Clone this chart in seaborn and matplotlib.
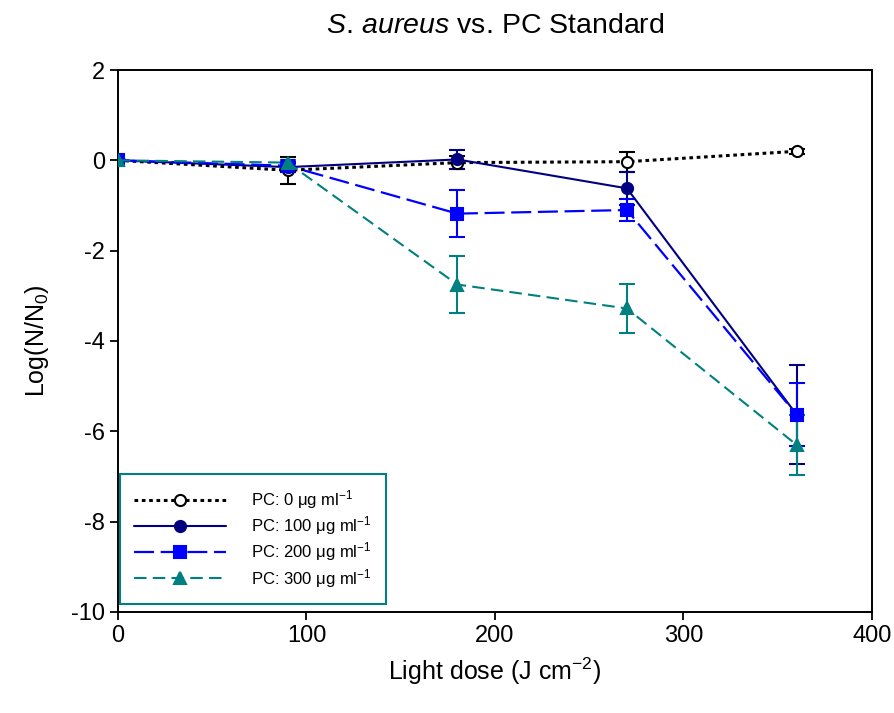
import matplotlib
matplotlib.use("Agg")
import matplotlib.pyplot as plt
import seaborn as sns
import pandas as pd
import numpy as np

# ---- data ----
dose = [0, 90, 180, 270, 360]
pc0 = [0.0, -0.22, -0.05, -0.03, 0.20]
pc0_err = [0.0, 0.30, 0.15, 0.22, 0.05]
pc100 = [0.0, -0.15, 0.02, -0.62, -5.63]
pc100_err = [0.0, 0.10, 0.22, 0.37, 1.10]
pc200 = [0.0, -0.12, -1.18, -1.10, -5.63]
pc200_err = [0.0, 0.08, 0.52, 0.24, 0.70]
pc300 = [0.0, -0.05, -2.75, -3.28, -6.30]
pc300_err = [0.0, 0.05, 0.63, 0.55, 0.67]
labels = ["PC: 0 $\\mathrm{\\mu}$g ml$^{-1}$", "PC: 100 $\\mathrm{\\mu}$g ml$^{-1}$",
          "PC: 200 $\\mathrm{\\mu}$g ml$^{-1}$", "PC: 300 $\\mathrm{\\mu}$g ml$^{-1}$"]

sns.set_theme(style="ticks")
plt.rcParams["font.family"] = ["Liberation Sans", "DejaVu Sans"]
plt.rcParams["mathtext.fontset"] = "custom"
plt.rcParams["mathtext.rm"] = "Liberation Sans"
plt.rcParams["mathtext.it"] = "Liberation Sans:italic"
plt.rcParams["mathtext.bf"] = "Liberation Sans:bold"
plt.rcParams["axes.unicode_minus"] = False
plt.rcParams["text.color"] = "black"
plt.rcParams["axes.labelcolor"] = "black"
plt.rcParams["xtick.color"] = "black"
plt.rcParams["ytick.color"] = "black"

fig = plt.figure(figsize=(8.95, 7.13), dpi=100)
ax = fig.add_axes([0.1318, 0.1417, 0.8425, 0.7601])

series = [
    (pc0, pc0_err, "black", "o", "white", (0, (1.2, 1.2)), 2.2, 8),
    (pc100, pc100_err, "#000080", "o", "#000080", "-", 1.5, 8),
    (pc200, pc200_err, "#0000FF", "s", "#0000FF", (0, (9, 3)), 1.6, 8),
    (pc300, pc300_err, "#008080", "^", "#008080", (0, (6, 3)), 1.5, 9),
]

for (vals, errs, col, mk, fc, ls, lw, ms), lab in zip(series, labels):
    df = pd.DataFrame({"dose": dose, "val": vals})
    ax.errorbar(dose, vals, yerr=errs, fmt="none", ecolor=col, elinewidth=1.5,
                capsize=6, capthick=1.5, zorder=2)
    sns.lineplot(data=df, x="dose", y="val", ax=ax, color=col, marker=mk,
                 markerfacecolor=fc, markeredgecolor=col, markeredgewidth=1.5,
                 markersize=ms, linestyle=ls, linewidth=lw, label=lab, zorder=3)

ax.set_xlim(0, 400)
ax.set_ylim(-10, 2)
ax.set_xticks([0, 100, 200, 300, 400])
ax.set_yticks([-10, -8, -6, -4, -2, 0, 2])
ax.tick_params(direction="out", length=6, width=1.3, labelsize=17, colors="black")
for s in ax.spines.values():
    s.set_linewidth(1.4)
    s.set_color("black")
    s.set_visible(True)

ax.set_xlabel("Light dose (J cm$^{-2}$)", fontsize=18, labelpad=6)
ax.set_ylabel("Log(N/N$_0$)", fontsize=18, labelpad=14)
ax.set_title("$\\mathit{S.\\,aureus}$ vs. PC Standard", fontsize=20.5, pad=27)

leg = ax.legend(loc="lower left", bbox_to_anchor=(0.003, 0.015), fontsize=12,
                handlelength=5.5, borderpad=0.85, labelspacing=0.2,
                handletextpad=1.5, borderaxespad=0, fancybox=False, frameon=True)
leg.get_frame().set_edgecolor("#008080")
leg.get_frame().set_linewidth(1.5)
leg.get_frame().set_facecolor("white")
leg.get_frame().set_alpha(1)

fig.savefig("out.png", dpi=100)
